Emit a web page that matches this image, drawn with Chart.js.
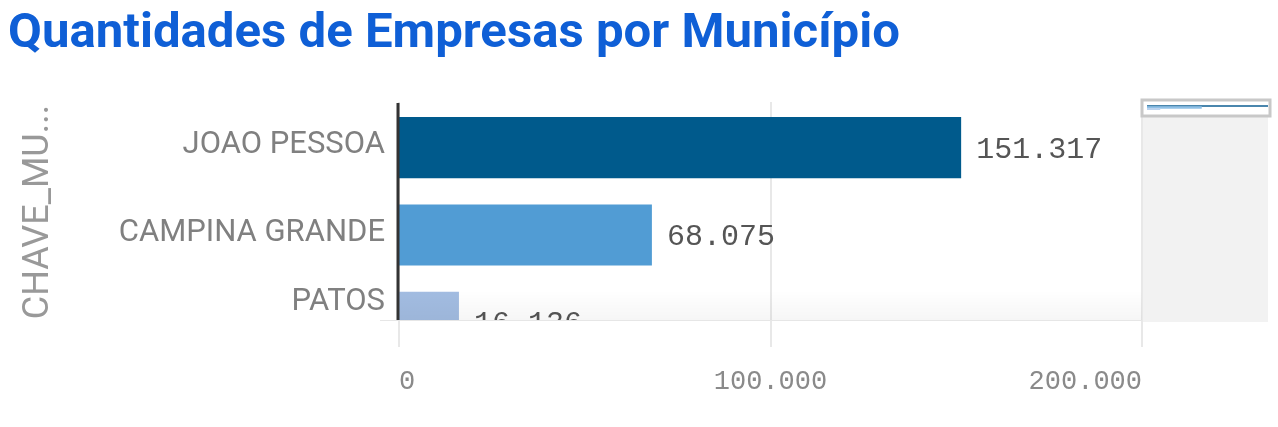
<!DOCTYPE html>
<html>
<head>
<meta charset="utf-8">
<script src="https://cdn.jsdelivr.net/npm/chart.js@4.4.1/dist/chart.umd.min.js"></script>
<style>
  html, body { margin: 0; padding: 0; background: #fff; overflow: hidden; }
  #wrap { position: relative; width: 1278px; height: 427px; }
  #title { position: absolute; left: 8px; top: 7px; font: 700 48px/1 Roboto, sans-serif; color: #0f5fd6;
           white-space: nowrap; transform-origin: 0 0; }
  #main { position: absolute; left: 0; top: 0; }
  #mini { position: absolute; left: 1147px; top: 105px; }
</style>
</head>
<body>
<div id="wrap">
  <canvas id="main" width="1278" height="427"></canvas>
  <canvas id="mini" width="121" height="5"></canvas>
  <div id="title">Quantidades de Empresas por Município</div>
</div>
<script>
const municipios = ['JOAO PESSOA', 'CAMPINA GRANDE', 'PATOS'];
const empresas = [151317, 68075, 16136];
const barColors = ['#005a8c', '#519cd4', '#a2bce1'];
const xTicks = [0, 100000, 200000];
const axisTitle = 'CHAVE_MU...';

// the visible part of the scroll view and where the grid fades out
const VIEW_BOTTOM = 320;
const GRID_BOTTOM = 347;

const fmt = v => v.toLocaleString('pt-BR');

// squeeze the title to the width it has in the original
const titleEl = document.getElementById('title');
const titleW = titleEl.getBoundingClientRect().width;
titleEl.style.transform = `scaleX(${892 / titleW})`;

const scrollView = {
    id: 'scrollView',
    beforeDatasetsDraw(chart) {
        const { ctx, chartArea, scales: { x } } = chart;
        ctx.save();
        ctx.strokeStyle = '#e8e8e8';
        ctx.lineWidth = 2;
        x.ticks.forEach(t => {
            const px = Math.round(x.getPixelForValue(t.value));
            ctx.beginPath();
            ctx.moveTo(px, chartArea.top - 2);
            ctx.lineTo(px, GRID_BOTTOM);
            ctx.stroke();
        });
        ctx.restore();

        ctx.save();
        ctx.beginPath();
        ctx.rect(0, 0, chart.width, VIEW_BOTTOM);
        ctx.clip();
    },
    afterDatasetsDraw(chart) {
        const { ctx, chartArea, scales: { x, y } } = chart;
        const meta = chart.getDatasetMeta(0);

        // value labels
        ctx.font = '30px "Liberation Mono", monospace';
        ctx.fillStyle = '#555';
        ctx.textAlign = 'left';
        ctx.textBaseline = 'middle';
        meta.data.forEach((bar, i) => {
            ctx.fillText(fmt(empresas[i]), bar.x + 15, bar.y + 2);
        });

        // fade at the bottom of the scroll view
        const g = ctx.createLinearGradient(0, VIEW_BOTTOM - 30, 0, VIEW_BOTTOM);
        g.addColorStop(0, 'rgba(0,0,0,0)');
        g.addColorStop(1, 'rgba(0,0,0,0.035)');
        ctx.fillStyle = g;
        ctx.fillRect(chartArea.left, VIEW_BOTTOM - 30, chartArea.right - chartArea.left, 30);
        ctx.restore();

        // category labels, the last one kept inside the view
        ctx.save();
        ctx.font = '31px Roboto, sans-serif';
        ctx.fillStyle = '#808080';
        ctx.textAlign = 'right';
        ctx.textBaseline = 'middle';
        municipios.forEach((m, i) => {
            const py = Math.min(y.getPixelForValue(i) - 2, VIEW_BOTTOM - 18);
            ctx.fillText(m, chartArea.left - 14, py);
        });

        // axis title
        ctx.translate(39, 212);
        ctx.rotate(-Math.PI / 2);
        ctx.font = '36px Roboto, sans-serif';
        ctx.fillStyle = '#999';
        ctx.textAlign = 'center';
        ctx.fillText(axisTitle, 0, 0);
        ctx.restore();

        // axis line
        ctx.save();
        const x0 = Math.round(x.getPixelForValue(0)) - 1;
        ctx.strokeStyle = '#333';
        ctx.lineWidth = 3;
        ctx.beginPath();
        ctx.moveTo(x0, chartArea.top - 1);
        ctx.lineTo(x0, VIEW_BOTTOM);
        ctx.stroke();

        ctx.strokeStyle = '#e6e6e6';
        ctx.lineWidth = 1;
        ctx.beginPath();
        ctx.moveTo(380, VIEW_BOTTOM + 0.5);
        ctx.lineTo(chartArea.right, VIEW_BOTTOM + 0.5);
        ctx.stroke();

        // overview panel with its thumb
        ctx.fillStyle = '#f2f2f2';
        ctx.fillRect(chartArea.right + 1, chartArea.top - 4, 125, VIEW_BOTTOM - chartArea.top + 6);
        ctx.fillStyle = '#fff';
        ctx.fillRect(chartArea.right, chartArea.top - 4, 128, 16);
        ctx.strokeStyle = '#c8c8c8';
        ctx.lineWidth = 3;
        ctx.strokeRect(chartArea.right, chartArea.top - 4, 128, 16);
        ctx.restore();
    }
};

new Chart(document.getElementById('main'), {
    type: 'bar',
    data: {
        labels: municipios,
        datasets: [{
            data: empresas,
            backgroundColor: barColors,
            borderWidth: 0,
            categoryPercentage: 1,
            barPercentage: 0.7
        }]
    },
    options: {
        indexAxis: 'y',
        responsive: false,
        animation: false,
        devicePixelRatio: 1,
        locale: 'pt-BR',
        layout: { padding: { top: 104, right: 136, left: 0, bottom: 0 } },
        plugins: { legend: { display: false }, tooltip: { enabled: false } },
        scales: {
            x: {
                min: 0,
                max: 200000,
                afterBuildTicks: s => { s.ticks = xTicks.map(v => ({ value: v })); },
                afterFit: s => { s.height = 61; },
                grid: { display: false, drawTicks: false },
                border: { display: false },
                ticks: {
                    padding: 0,
                    align: 'inner',
                    color: '#8a8a8a',
                    font: { family: '"Liberation Mono", monospace', size: 27 },
                    callback: v => fmt(v)
                }
            },
            y: {
                afterFit: s => { s.width = 399; },
                grid: { display: false },
                border: { display: false },
                ticks: { display: false }
            }
        }
    },
    plugins: [scrollView]
});

// small overview inside the scroll thumb
new Chart(document.getElementById('mini'), {
    type: 'bar',
    data: {
        labels: municipios,
        datasets: [{
            data: empresas,
            backgroundColor: ['#4a86ad', '#8fc0e6', '#b9d2ee'],
            borderWidth: 0,
            categoryPercentage: 1,
            barPercentage: 1
        }]
    },
    options: {
        indexAxis: 'y',
        responsive: false,
        animation: false,
        devicePixelRatio: 1,
        layout: { padding: 0 },
        plugins: { legend: { display: false }, tooltip: { enabled: false } },
        scales: {
            x: { display: false, min: 0, max: Math.max(...empresas) },
            y: { display: false }
        }
    }
});
</script>
</body>
</html>
